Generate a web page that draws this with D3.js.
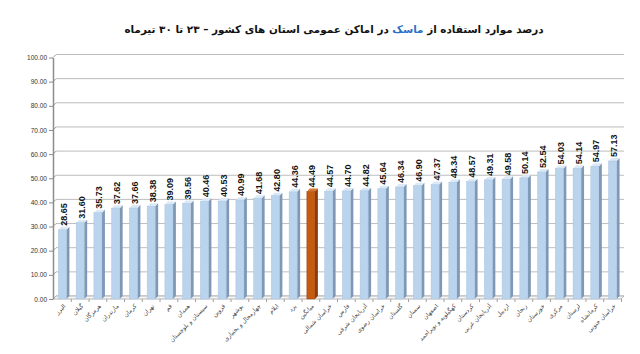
<!DOCTYPE html>
<html>
<head>
<meta charset="utf-8">
<script src="https://cdnjs.cloudflare.com/ajax/libs/d3/7.8.5/d3.min.js"></script>
<style>
  body { margin: 0; background: #fff; }
  #chart { position: relative; width: 640px; height: 354px; }
  #title {
    position: absolute; left: 0; top: 23px; width: 668px; text-align: center;
    font-family: "DejaVu Sans", sans-serif; font-weight: bold; font-size: 10.4px;
    direction: rtl; color: #111;
  }
  #title .hl { color: #2e6fc4; }
</style>
</head>
<body>
<div id="chart">
  <div id="title">درصد موارد استفاده از <span class="hl">ماسک</span> در اماکن عمومی استان های کشور – ۲۳ تا ۳۰ تیرماه</div>
</div>
<script>
const provinces = ["البرز", "گیلان", "هرمزگان", "مازندران", "کرمان", "تهران", "قم", "همدان",
  "سیستان و بلوچستان", "قزوین", "بوشهر", "چهارمحال و بختیاری", "ایلام", "یزد", "میانگین",
  "خراسان شمالی", "فارس", "آذربایجان شرقی", "خراسان رضوی", "گلستان", "سمنان", "اصفهان",
  "کهگیلویه و بویراحمد", "کردستان", "آذربایجان غربی", "اردبیل", "زنجان", "خوزستان",
  "مرکزی", "لرستان", "کرمانشاه", "خراسان جنوبی"];
const values = [28.65, 31.60, 35.73, 37.62, 37.66, 38.38, 39.09, 39.56, 40.46, 40.53, 40.99,
  41.68, 42.80, 44.36, 44.49, 44.57, 44.70, 44.82, 45.64, 46.34, 46.90, 47.37, 48.34, 48.57,
  49.31, 49.58, 50.14, 52.54, 54.03, 54.14, 54.97, 57.13];
const highlight = "میانگین";
const yTicks = [0, 10, 20, 30, 40, 50, 60, 70, 80, 90, 100];

const width = 640;
const height = 354;
const dx = 3, dy = -3; // 3D depth

const data = provinces.map((p, i) => ({ name: p, value: values[i] }));

let xScale = d3.scaleBand().domain(provinces).range([54, 621]).paddingInner(0.55).paddingOuter(0.25);
let yScale = d3.scaleLinear().domain([0, 100]).range([299, 57.5]);

let svg = d3.select("#chart").append("svg")
  .attr("width", width).attr("height", height)
  .style("position", "absolute").style("left", 0).style("top", 0);

const x0 = 53, x1 = 621;

// back wall gridlines
svg.append("g").selectAll("line").data(yTicks).enter().append("line")
  .attr("x1", x0 + dx).attr("x2", x1 + dx)
  .attr("y1", (d) => yScale(d) + dy).attr("y2", (d) => yScale(d) + dy)
  .attr("stroke", "#bdbdbd").attr("stroke-width", 1);

// left wall connectors
svg.append("g").selectAll("line").data(yTicks).enter().append("line")
  .attr("x1", x0).attr("x2", x0 + dx)
  .attr("y1", (d) => yScale(d)).attr("y2", (d) => yScale(d) + dy)
  .attr("stroke", "#9a9a9a");

// floor
svg.append("polygon")
  .attr("points", [[x0, yScale(0)], [x0 + dx, yScale(0) + dy], [x1 + dx, yScale(0) + dy], [x1, yScale(0)]].join(" "))
  .attr("fill", "#f4f4f4").attr("stroke", "#a8a8a8").attr("stroke-width", 0.8);

// y axis
let yAxis = d3.axisLeft(yScale).tickValues(yTicks).tickFormat(d3.format(".2f")).tickSize(4).tickSizeOuter(0);
let gy = svg.append("g").attr("transform", "translate(" + x0 + ",0)").call(yAxis);
gy.select(".domain").attr("stroke", "#8c8c8c").attr("stroke-width", 1.5);
gy.selectAll(".tick line").attr("stroke", "#8c8c8c");
gy.selectAll("text").attr("fill", "#333").style("font-family", "Liberation Sans, Arial, sans-serif")
  .style("font-size", "6.5px").attr("x", -6);

// x ticks on floor front edge, between categories
const step = xScale.step();
const firstEdge = xScale(provinces[0]) - (step - xScale.bandwidth()) / 2;
svg.append("g").selectAll("line").data(d3.range(1, provinces.length + 1)).enter().append("line")
  .attr("x1", (i) => firstEdge + i * step).attr("x2", (i) => firstEdge + i * step)
  .attr("y1", yScale(0)).attr("y2", yScale(0) + 3)
  .attr("stroke", "#a0a0a0");

const bw = xScale.bandwidth();
const faceColor = (d) => d.name === highlight ? "#c55a11" : "#bad4ee";
const sideColor = (d) => d.name === highlight ? "#8b3b08" : "#7e98b5";
const topColor = (d) => d.name === highlight ? "#d9772f" : "#dbe8f6";

let bars = svg.append("g").selectAll("g").data(data).enter().append("g");
bars.append("polygon")
  .attr("points", (d) => {
    let x = xScale(d.name), y = yScale(d.value), y0 = yScale(0);
    return [[x + bw, y], [x + bw + dx, y + dy], [x + bw + dx, y0 + dy], [x + bw, y0]].join(" ");
  })
  .attr("fill", sideColor);
bars.append("polygon")
  .attr("points", (d) => {
    let x = xScale(d.name), y = yScale(d.value);
    return [[x, y], [x + dx, y + dy], [x + bw + dx, y + dy], [x + bw, y]].join(" ");
  })
  .attr("fill", topColor);
bars.append("rect")
  .attr("x", (d) => xScale(d.name)).attr("y", (d) => yScale(d.value))
  .attr("width", bw).attr("height", (d) => yScale(0) - yScale(d.value))
  .attr("fill", faceColor)
  .attr("stroke", (d) => d.name === highlight ? "#9a420a" : "#a9c3df").attr("stroke-width", 0.5);

// value labels
bars.append("text")
  .attr("transform", (d) => "translate(" + (xScale(d.name) + bw / 2 + 4.5) + "," + (yScale(d.value) - 4) + ") rotate(-90)")
  .attr("text-anchor", "start")
  .style("font-family", "Liberation Sans, Arial, sans-serif")
  .style("font-size", "9px").style("font-weight", "bold").attr("fill", "#111")
  .text((d) => d.value.toFixed(2));

// category labels
svg.append("g").selectAll("text").data(data).enter().append("text")
  .attr("transform", (d) => "translate(" + (xScale(d.name) + bw / 2 + 2) + "," + (yScale(0) + 6) + ") rotate(-45)")
  .attr("text-anchor", "end")
  .attr("dy", "0.35em")
  .style("font-family", "DejaVu Sans, sans-serif")
  .style("font-size", "6px").attr("fill", "#444")
  .text((d) => d.name);
</script>
</body>
</html>
